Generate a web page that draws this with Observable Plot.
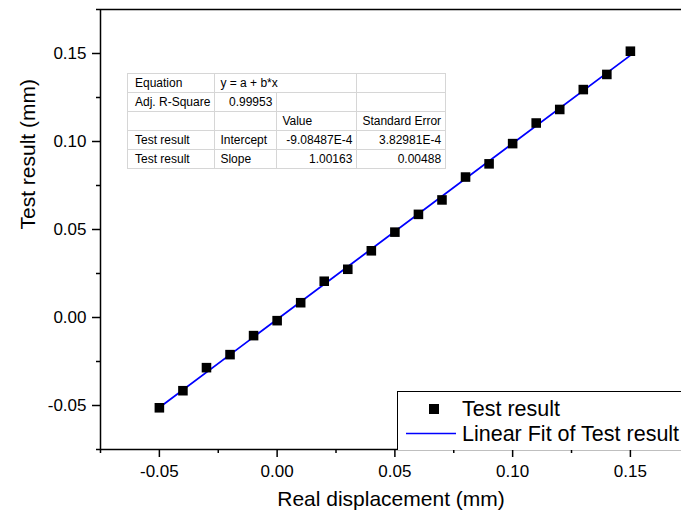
<!DOCTYPE html>
<html>
<head>
<meta charset="utf-8">
<script src="https://cdn.jsdelivr.net/npm/d3@7"></script>
<script src="https://cdn.jsdelivr.net/npm/@observablehq/plot@0.6"></script>
<style>
  html, body { margin: 0; padding: 0; background: #fff; }
  #wrap { position: relative; width: 681px; height: 519px; overflow: hidden; font-family: "Liberation Sans", Arial, sans-serif; }
  #wrap svg { display: block; }
  #stats { position: absolute; left: 127px; top: 73px; border-collapse: collapse; table-layout: fixed; font-size: 12px; background: #fff; border: 1px solid #7a7a7a; }
  #stats td { height: 18px; padding: 0 4px 0 5px; border: 1px solid #d6d6d6; white-space: nowrap; line-height: 18px; color: #000; }
  #stats td.num { text-align: right; }
  #legend { position: absolute; left: 397px; top: 391px; width: 300px; height: 58px; border-left: 1px solid #000; border-top: 1px solid #000; background: #fff; font-size: 21.5px; }
  #legend .row { position: absolute; left: 64px; white-space: nowrap; line-height: 24px; }
  #legend svg { position: absolute; left: 0; top: 0; }
</style>
</head>
<body>
<div id="wrap"></div>
<script>
// ---- data ----
const xValues = [-0.05, -0.04, -0.03, -0.02, -0.01, 0.00, 0.01, 0.02, 0.03, 0.04, 0.05,
                 0.06, 0.07, 0.08, 0.09, 0.10, 0.11, 0.12, 0.13, 0.14, 0.15];
const yValues = [-0.0513, -0.0416, -0.0285, -0.0211, -0.0103, -0.0018, 0.0084, 0.0206, 0.0274, 0.0379, 0.0485,
                 0.0586, 0.0668, 0.0798, 0.0873, 0.0988, 0.1105, 0.1182, 0.1295, 0.1381, 0.1513];
const xMajorTicks = [-0.05, 0.00, 0.05, 0.10, 0.15];
const xMinorTicks = [-0.075, -0.025, 0.025, 0.075, 0.125];
const yMajorTicks = [-0.05, 0.00, 0.05, 0.10, 0.15];
const yMinorTicks = [-0.075, -0.025, 0.025, 0.075, 0.125, 0.175];
const xDomain = [-0.075, 0.1717];
const yDomain = [-0.075, 0.175];
const xTitle = "Real displacement (mm)";
const yTitle = "Test result (mm)";
const seriesName = "Test result";
const fitName = "Linear Fit of Test result";
const tableRows = [
  ["Equation", "y = a + b*x", null, ""],
  ["Adj. R-Square", "0.99953", "", ""],
  ["", "", "Value", "Standard Error"],
  ["Test result", "Intercept", "-9.08487E-4", "3.82981E-4"],
  ["Test result", "Slope", "1.00163", "0.00488"]
];
const tableColWidths = [86, 62, 80, 88];

const data = xValues.map((x, i) => ({x, y: yValues[i]}));
const fmt = d => d.toFixed(2);

const chart = Plot.plot({
  width: 681,
  height: 519,
  marginLeft: 100,
  marginRight: 0,
  marginTop: 9,
  marginBottom: 70,
  x: {domain: xDomain, label: null},
  y: {domain: yDomain, label: null},
  style: {fontFamily: "'Liberation Sans', Arial, sans-serif", color: "#000", background: "#fff", overflow: "visible"},
  marks: [
    Plot.ruleY([yDomain[0]], {stroke: "#000", strokeWidth: 1.5}),
    Plot.ruleY([yDomain[1]], {stroke: "#000", strokeWidth: 1.5}),
    Plot.ruleX([xDomain[0]], {stroke: "#000", strokeWidth: 1.5}),
    Plot.axisX({ticks: xMajorTicks, tickSize: 8, tickPadding: 7, tickFormat: fmt, fontSize: 17, strokeWidth: 1.5, label: null}),
    Plot.axisX({ticks: xMinorTicks, tickSize: 4, tickFormat: () => "", strokeWidth: 1.5, label: null}),
    Plot.axisY({ticks: yMajorTicks, tickSize: 8, tickPadding: 6, tickFormat: fmt, fontSize: 17, strokeWidth: 1.5, label: null}),
    Plot.axisY({ticks: yMinorTicks, tickSize: 4, tickFormat: () => "", strokeWidth: 1.5, label: null}),
    Plot.linearRegressionY(data, {x: "x", y: "y", stroke: "#0000ff", strokeWidth: 1.8, ci: 0}),
    Plot.dot(data, {x: "x", y: "y", symbol: "square", r: 5.4, fill: "#000", stroke: "none"}),
    Plot.text([xTitle], {text: d => d, frameAnchor: "bottom", dy: 56, fontSize: 21}),
    Plot.text([yTitle], {text: d => d, frameAnchor: "left", dx: -72, rotate: -90, fontSize: 21})
  ]
});

const wrap = document.getElementById("wrap");
wrap.appendChild(chart);

// stats table
const table = document.createElement("table");
table.id = "stats";
const colgroup = document.createElement("colgroup");
tableColWidths.forEach(w => { const c = document.createElement("col"); c.style.width = w + "px"; colgroup.appendChild(c); });
table.appendChild(colgroup);
const isNum = s => /^-?[0-9.]+(E-?[0-9]+)?$/.test(s);
tableRows.forEach(row => {
  const tr = document.createElement("tr");
  row.forEach((cell, j) => {
    if (cell === null) return;
    const td = document.createElement("td");
    td.textContent = cell;
    if (j === 1 && row[2] === null) td.colSpan = 2;
    if (isNum(cell)) td.className = "num";
    if (j === 0) td.style.paddingLeft = "7px";
    tr.appendChild(td);
  });
  table.appendChild(tr);
});
wrap.appendChild(table);

// legend
const legend = document.createElement("div");
legend.id = "legend";
legend.innerHTML =
  '<svg width="64" height="58">' +
  '<rect x="31" y="12" width="10" height="10" fill="#000"></rect>' +
  '<line x1="8" x2="58" y1="41.5" y2="41.5" stroke="#0000ff" stroke-width="1.5"></line>' +
  '</svg>';
const r1 = document.createElement("div");
r1.className = "row"; r1.style.top = "5px"; r1.textContent = seriesName;
const r2 = document.createElement("div");
r2.className = "row"; r2.style.top = "30px"; r2.textContent = fitName;
legend.appendChild(r1);
legend.appendChild(r2);
wrap.appendChild(legend);
</script>
</body>
</html>
